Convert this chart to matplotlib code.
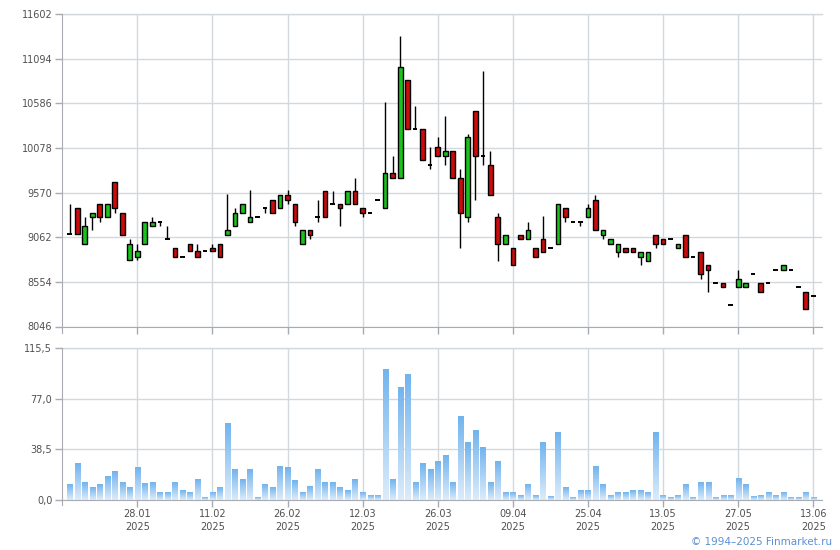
import matplotlib
matplotlib.use("Agg")
import matplotlib.pyplot as plt
import numpy as np
from matplotlib.colors import LinearSegmentedColormap

# ---- data ----
opens = [9094, 9399, 8988, 9292, 9444, 9292, 9695, 9342, 8798, 8840,
         8988, 9194, 9239, 9045, 8943, 8840, 8988, 8901, 8901, 8943,
         8988, 9091, 9194, 9342, 9239, 9296, 9399, 9490, 9399, 9547,
         9444, 8988, 9148, 9296, 9593, 9444, 9444, 9444, 9593, 9399,
         9342, 9490, 9399, 9798, 9741, 10846, 10299, 10299, 9889, 10094,
         9991, 10048, 9741, 9292, 10496, 9991, 9889, 9292, 8988, 8943,
         9091, 9045, 8943, 9045, 8943, 8988, 9399, 9239, 9239, 9296,
         9490, 9091, 8988, 8897, 8943, 8943, 8840, 8795, 9091, 9045,
         9045, 8943, 9091, 8840, 8897, 8749, 8544, 8544, 8293, 8498,
         8498, 8647, 8544, 8544, 8692, 8692, 8692, 8498, 8441, 8396]
highs = [9444, 9399, 9292, 9342, 9444, 9444, 9695, 9342, 9045, 8988,
         9239, 9296, 9239, 9194, 8943, 8840, 8988, 8988, 8901, 8988,
         8988, 9550, 9399, 9444, 9596, 9296, 9399, 9490, 9547, 9596,
         9444, 9148, 9148, 9490, 9593, 9593, 9444, 9593, 9741, 9399,
         9342, 9490, 10599, 9991, 11351, 10846, 10550, 10299, 10094, 10197,
         10447, 10048, 9843, 10242, 10496, 10949, 10048, 9342, 9091, 8943,
         9091, 9239, 8943, 9300, 8943, 9444, 9399, 9239, 9239, 9444,
         9547, 9148, 9045, 8988, 8943, 8943, 8897, 8897, 9091, 9045,
         9045, 8988, 9091, 8840, 8897, 8749, 8544, 8544, 8293, 8692,
         8544, 8647, 8544, 8544, 8692, 8749, 8692, 8498, 8441, 8396]
lows = [9094, 9094, 8988, 9148, 9235, 9292, 9342, 9091, 8798, 8798,
        8988, 9194, 9194, 9045, 8840, 8840, 8901, 8840, 8901, 8901,
        8840, 9091, 9194, 9342, 9239, 9296, 9342, 9342, 9399, 9444,
        9194, 8988, 9040, 9239, 9296, 9444, 9194, 9444, 9444, 9296,
        9342, 9490, 9399, 9741, 9741, 10299, 10299, 9941, 9843, 9991,
        9889, 9741, 8943, 9235, 9490, 9889, 9547, 8790, 8988, 8749,
        9045, 9045, 8840, 8897, 8943, 8988, 9239, 9239, 9194, 9296,
        9148, 9045, 8988, 8840, 8897, 8897, 8749, 8795, 8943, 8988,
        9045, 8943, 8840, 8840, 8590, 8441, 8544, 8498, 8293, 8498,
        8498, 8647, 8441, 8544, 8692, 8692, 8692, 8498, 8248, 8396]
closes = [9094, 9094, 9194, 9342, 9292, 9444, 9399, 9091, 8988, 8901,
          9239, 9239, 9239, 9045, 8840, 8840, 8901, 8840, 8901, 8901,
          8840, 9148, 9342, 9444, 9296, 9296, 9399, 9342, 9547, 9490,
          9239, 9148, 9091, 9296, 9296, 9444, 9399, 9593, 9444, 9342,
          9342, 9490, 9798, 9741, 10994, 10299, 10299, 9941, 9889, 9991,
          10048, 9741, 9342, 10197, 9991, 9991, 9547, 8988, 9091, 8749,
          9045, 9148, 8840, 8897, 8943, 9444, 9296, 9239, 9239, 9399,
          9148, 9148, 9045, 8988, 8897, 8897, 8897, 8897, 8988, 8988,
          9045, 8988, 8840, 8840, 8647, 8692, 8544, 8498, 8293, 8590,
          8544, 8647, 8441, 8544, 8692, 8749, 8692, 8498, 8248, 8396]
volumes = [11.6, 27.6, 13.2, 9.4, 11.6, 17.7, 21.5, 13.2, 9.4, 24.6,
           12.4, 13.2, 5.6, 5.6, 13.2, 7.1, 5.6, 15.5, 1.8, 5.6,
           9.4, 58.0, 23.1, 15.5, 23.1, 1.8, 11.6, 9.4, 25.3, 24.6,
           14.7, 5.6, 10.1, 23.1, 13.2, 13.2, 9.4, 7.1, 15.5, 5.6,
           3.3, 3.3, 99.0, 15.5, 85.4, 95.2, 13.2, 27.6, 23.1, 29.1,
           33.7, 13.2, 63.3, 43.6, 52.7, 39.8, 13.2, 29.1, 5.6, 5.6,
           3.3, 11.6, 3.3, 43.6, 2.5, 51.2, 9.4, 1.8, 7.1, 7.1,
           25.3, 11.6, 3.3, 5.6, 5.6, 7.1, 7.1, 5.6, 51.2, 3.3,
           1.8, 3.3, 11.6, 1.8, 13.2, 13.2, 1.8, 3.3, 3.3, 16.2,
           11.6, 2.5, 3.3, 5.6, 3.3, 5.6, 1.8, 1.8, 5.6, 1.8]
date_tick_idx = [9, 19, 29, 39, 49, 59, 69, 79, 89, 99]
date_tick_labels = ["28.01\n2025", "11.02\n2025", "26.02\n2025", "12.03\n2025",
                    "26.03\n2025", "09.04\n2025", "25.04\n2025", "13.05\n2025",
                    "27.05\n2025", "13.06\n2025"]
price_ticks = [8046, 8554, 9062, 9570, 10078, 10586, 11094, 11602]
vol_ticks = [0.0, 38.5, 77.0, 115.5]
vol_tick_labels = ["0,0", "38,5", "77,0", "115,5"]

# ---- style ----
GRID = "#d3d8dc"
SPINE = "#a9abb3"
TXT = "#505050"
UP = "#1cc21c"
DOWN = "#cc0c0c"
FS = 7

fig = plt.figure(figsize=(8.4, 5.5), dpi=100)
W, H = 840.0, 550.0
x_left_px, x_right_px = 62.0, 822.0
x0_px, step_px = 69.7, 7.511
xmin = (x_left_px - x0_px) / step_px
xmax = (x_right_px - x0_px) / step_px

axp = fig.add_axes([x_left_px / W, 1 - 326.5 / H, (x_right_px - x_left_px) / W, (326.5 - 14) / H])
axv = fig.add_axes([x_left_px / W, 1 - 500 / H, (x_right_px - x_left_px) / W, (500 - 348) / H])

n = len(opens)
x = np.arange(n)
o = np.array(opens, float); c = np.array(closes, float)
h = np.array(highs, float); l = np.array(lows, float)

# price panel
bw = 0.62
axp.vlines(x, l, h, color="black", linewidth=1.0, zorder=2)
for i in range(n):
    if o[i] == c[i]:
        axp.hlines(o[i], i - 0.30, i + 0.30, color="black", linewidth=1.4, zorder=3)
    else:
        col = UP if c[i] > o[i] else DOWN
        axp.bar(i, abs(c[i] - o[i]), bottom=min(o[i], c[i]), width=bw,
                color=col, edgecolor="black", linewidth=1.0, zorder=3)

axp.set_xlim(xmin, xmax)
axp.set_ylim(price_ticks[0], price_ticks[-1])
axp.set_yticks(price_ticks)
axp.set_yticklabels([str(t) for t in price_ticks])
axp.set_xticks(date_tick_idx)
axp.set_xticklabels([])
axp.grid(True, color=GRID, linewidth=1.0, zorder=0)
axp.set_axisbelow(True)
axp.axhline(price_ticks[-1], color=GRID, linewidth=1.0, clip_on=False, zorder=0)
for s in ["top", "right"]:
    axp.spines[s].set_visible(False)
axp.spines["left"].set_color(SPINE)
axp.spines["bottom"].set_color(SPINE)
axp.spines["left"].set_bounds(price_ticks[0] - 6 * 11.4, price_ticks[-1])
axp.tick_params(axis="y", colors=TXT, labelsize=FS, length=5, width=1, color=SPINE, pad=2)
axp.tick_params(axis="x", length=5, width=1, color=SPINE)

# volume panel with gradient bars
cmap = LinearSegmentedColormap.from_list("vg", ["#dcecfa", "#72b4ee"])
grad = np.linspace(0, 1, 64).reshape(-1, 1)
vbw = 0.70
for i, v in enumerate(volumes):
    axv.imshow(grad, extent=[i - vbw / 2, i + vbw / 2, 0, v], origin="lower",
               cmap=cmap, aspect="auto", zorder=2, interpolation="bilinear")
axv.set_xlim(xmin, xmax)
axv.set_ylim(0, 115.5)
axv.set_yticks(vol_ticks)
axv.set_yticklabels(vol_tick_labels)
axv.set_xticks(date_tick_idx)
axv.set_xticklabels(date_tick_labels, fontsize=FS, color=TXT, linespacing=1.35)
axv.grid(True, color=GRID, linewidth=1.0, zorder=0)
axv.set_axisbelow(True)
axv.axhline(115.5, color=GRID, linewidth=1.0, clip_on=False, zorder=0)
for s in ["top", "right"]:
    axv.spines[s].set_visible(False)
axv.spines["left"].set_color(SPINE)
axv.spines["bottom"].set_color(SPINE)
axv.spines["left"].set_bounds(0 - 5 * 0.76, 115.5)
axv.tick_params(axis="y", colors=TXT, labelsize=FS, length=5, width=1, color=SPINE, pad=2)
axv.tick_params(axis="x", colors=TXT, labelsize=FS, length=5, width=1, color=SPINE, pad=1.5)

fig.text(832 / W, 1 - 542 / H, "\u00a9 1994\u20132025 Finmarket.ru", ha="right", va="center",
         fontsize=7.5, color="#5b8fd6")

fig.savefig("out.png", dpi=100)
